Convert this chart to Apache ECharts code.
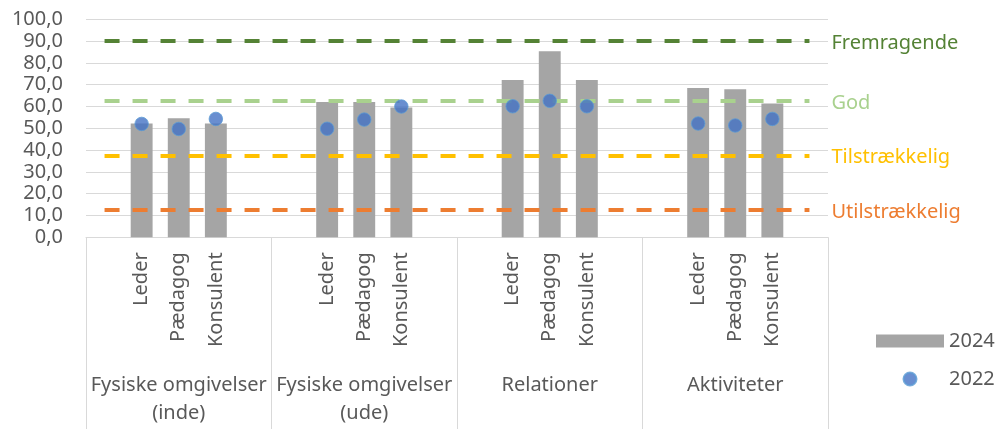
<!DOCTYPE html>
<html>
<head>
<meta charset="utf-8">
<script src="https://cdn.jsdelivr.net/npm/echarts@6/dist/echarts.min.js"></script>
<style>html,body{margin:0;padding:0;background:#fff}#c{width:1000px;height:429px}</style>
</head>
<body>
<div id="c"></div>
<script>
var groups = ['Fysiske omgivelser\n(inde)', 'Fysiske omgivelser\n(ude)', 'Relationer', 'Aktiviteter'];
var roles = ['Leder', 'Pædagog', 'Konsulent'];
var values2024 = [52.2, 54.6, 52.2, 62.1, 62.1, 59.5, 72.1, 85.3, 72.1, 68.5, 67.9, 61.4];
var values2022 = [52.0, 49.7, 54.3, 49.8, 54.0, 60.0, 60.1, 62.6, 60.1, 52.2, 51.3, 54.3];
var levelNames = ['Fremragende', 'God', 'Tilstrækkelig', 'Utilstrækkelig'];
var levelValues = [90, 62.5, 37.5, 12.5];
var levelColors = ['#548235', '#a9d18e', '#ffc000', '#ed7d31'];
var yTicks = [0, 10, 20, 30, 40, 50, 60, 70, 80, 90, 100];

// slots: blank, roles..., blank for each group
var slots = [], bars = [], dots = [];
groups.forEach(function (g, gi) {
  slots.push(''); bars.push(null); dots.push(null);
  roles.forEach(function (r, ri) {
    slots.push(r);
    bars.push(values2024[gi * 3 + ri]);
    dots.push(values2022[gi * 3 + ri]);
  });
  slots.push(''); bars.push(null); dots.push(null);
});

var FONT = '"Noto Sans", "Liberation Sans", sans-serif';
var TXT = '#595959';
var GRID = '#d9d9d9';

var markData = levelNames.map(function (n, i) {
  return [
    { name: n, xAxis: 0, yAxis: levelValues[i],
      lineStyle: { color: levelColors[i] },
      label: { color: levelColors[i] } },
    { xAxis: slots.length - 1, yAxis: levelValues[i] }
  ];
});

var chart = echarts.init(document.getElementById('c'), null, { renderer: 'canvas' });
chart.setOption({
  animation: false,
  textStyle: { fontFamily: FONT },
  grid: { left: 86, right: 172, top: 19.3, bottom: 191.7, containLabel: false },
  legend: {
    data: [{ name: '2024', icon: 'rect' }, { name: '2022', icon: 'circle' }],
    orient: 'vertical',
    left: 871, top: 326,
    itemWidth: 68, itemHeight: 13, itemGap: 18,
    textStyle: { fontSize: 20, color: TXT, fontFamily: FONT }
  },
  xAxis: [
    {
      type: 'category', data: slots, position: 'bottom',
      axisLine: { show: true, lineStyle: { color: GRID, width: 1 } },
      axisTick: { show: false },
      axisLabel: { interval: 0, rotate: 90, margin: 15, fontSize: 20, color: TXT, fontFamily: FONT }
    },
    {
      type: 'category', data: groups, position: 'bottom', gridIndex: 0,
      axisLine: { show: false },
      axisTick: { show: true, length: 192, lineStyle: { color: GRID, width: 1 } },
      axisLabel: { interval: 0, margin: 134, fontSize: 20, lineHeight: 28, color: TXT, fontFamily: FONT }
    }
  ],
  yAxis: {
    type: 'value', min: 0, max: 100, interval: 10,
    axisLine: { show: false }, axisTick: { show: false },
    splitLine: { lineStyle: { color: GRID, width: 1 } },
    axisLabel: {
      margin: 23, fontSize: 20, color: TXT, fontFamily: FONT,
      formatter: function (v) { return yTicks.indexOf(v) >= 0 ? v.toFixed(1).replace('.', ',') : ''; }
    }
  },
  series: [
    {
      name: '2024', type: 'bar', xAxisIndex: 0, data: bars, barWidth: '59%',
      itemStyle: { color: '#a5a5a5' }, z: 2,
      markLine: {
        silent: true, symbol: ['none', 'none'], z: 5,
        lineStyle: { type: [15, 13], width: 4 },
        label: { show: true, position: 'end', distance: 22, offset: [0, 2], fontSize: 20, fontFamily: FONT, formatter: '{b}' },
        data: markData
      }
    },
    {
      name: '2022', type: 'scatter', xAxisIndex: 0, data: dots, symbol: 'circle', symbolSize: 13.5,
      itemStyle: { color: '#4472c4', borderColor: '#5b9bd5', borderWidth: 1 }, z: 10
    }
  ]
});
</script>
</body>
</html>
